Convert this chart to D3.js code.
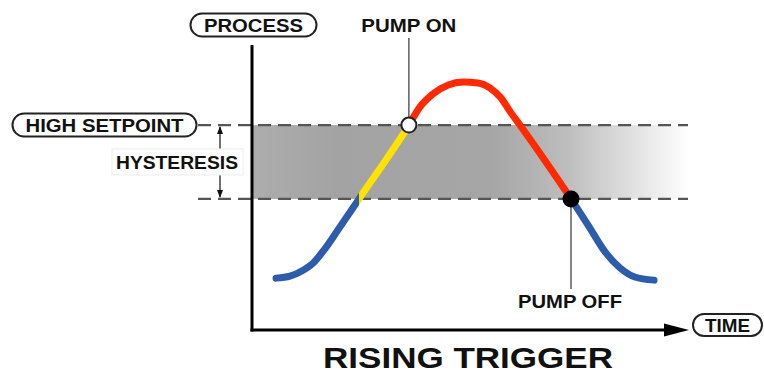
<!DOCTYPE html>
<html><head><meta charset="utf-8">
<script src="https://cdn.jsdelivr.net/npm/d3@7"></script>
<style>
html,body{margin:0;padding:0;background:#fff;}
svg{display:block;}
text{font-family:"Liberation Sans",Arial,Helvetica,sans-serif;font-weight:bold;fill:#111;}
</style></head>
<body>
<svg id="chart" width="764" height="375"></svg>
<script>
// ---- data ----
const times   = [5.5, 8.7, 11.4, 14.0, 16.5, 19.5, 24.5, 35.9, 38.4, 41.4, 44.9, 48.3, 51.7, 54.5, 57.0, 59.0, 61.3, 67.1, 73.0, 76.9, 80.8, 84.2, 87.6, 92.0];
const process = [18.2, 18.9, 20.7, 23.5, 28.1, 34.7, 46.0, 71.9, 78.2, 82.8, 86.0, 87.0, 86.7, 84.9, 81.4, 76.8, 71.9, 59.3, 46.0, 36.8, 27.4, 21.8, 18.6, 17.5];
const setpoints = [71.9, 46.0];         // high setpoint, high - hysteresis
const phaseBreaks = [24.5, 35.9, 73.0]; // enter band, pump on, pump off
const eventLabels = ["PUMP ON", "PUMP OFF"];
const eventTimes  = [35.9, 73.0];
const axisLabels  = ["PROCESS", "TIME"];
const title = "RISING TRIGGER";

// ---- styles ----
const BLUE = "#2d5cab", YELLOW = "#ffe200", RED = "#ff2a00";
const phaseColors = [BLUE, YELLOW, RED, BLUE];

const svg = d3.select("#chart");
const x = d3.scaleLinear([0, 100], [252, 689]);
const y = d3.scaleLinear([0, 100], [330, 45]);
const defs = svg.append("defs");

// band gradient
const bg = defs.append("linearGradient").attr("id", "band")
  .attr("gradientUnits", "userSpaceOnUse")
  .attr("x1", x(0)).attr("x2", x(100)).attr("y1", 0).attr("y2", 0);
[[0, "#adadad"], [0.2, "#a3a3a3"], [0.55, "#a6a6a6"], [0.72, "#bdbdbd"], [1, "#ffffff"]]
  .forEach(([o, c]) => bg.append("stop").attr("offset", o).attr("stop-color", c));

// stroke gradient (hard stops at phase breaks)
const sg = defs.append("linearGradient").attr("id", "phase")
  .attr("gradientUnits", "userSpaceOnUse")
  .attr("x1", x(0)).attr("x2", x(100)).attr("y1", 0).attr("y2", 0);
const bounds = [0, ...phaseBreaks, 100];
phaseColors.forEach((c, i) => {
  sg.append("stop").attr("offset", bounds[i] / 100).attr("stop-color", c);
  sg.append("stop").attr("offset", bounds[i + 1] / 100).attr("stop-color", c);
});

// hysteresis band
svg.append("rect")
  .attr("x", x(0)).attr("y", y(setpoints[0]))
  .attr("width", x(100) - x(0)).attr("height", y(setpoints[1]) - y(setpoints[0]))
  .attr("fill", "url(#band)");

// dashed setpoint lines
svg.selectAll("line.sp").data(setpoints).join("line").attr("class", "sp")
  .attr("x1", 198).attr("x2", x(100) - 1)
  .attr("y1", d => y(d)).attr("y2", d => y(d))
  .attr("stroke", "#555").attr("stroke-width", 2.2).attr("stroke-dasharray", "13,7");

// hysteresis dimension arrow
const hx = 220;
svg.append("line").attr("x1", hx).attr("x2", hx)
  .attr("y1", y(setpoints[0]) + 2).attr("y2", y(setpoints[1]) - 2)
  .attr("stroke", "#111").attr("stroke-width", 1.2);
svg.append("path").attr("d", `M${hx},${y(setpoints[0]) + 1}l-3,8h6z`).attr("fill", "#111");
svg.append("path").attr("d", `M${hx},${y(setpoints[1]) - 1}l-3,-8h6z`).attr("fill", "#111");
const hyMid = (y(setpoints[0]) + y(setpoints[1])) / 2;
svg.append("rect").attr("x", 112).attr("y", hyMid - 13).attr("width", 131).attr("height", 26)
  .attr("fill", "#fff").attr("stroke", "#ececec").attr("stroke-width", 1);
svg.append("text").attr("x", 177).attr("y", hyMid + 7).attr("text-anchor", "middle")
  .attr("font-size", 19).attr("textLength", 122).attr("lengthAdjust", "spacingAndGlyphs")
  .text("HYSTERESIS");

// axes
svg.append("line").attr("x1", x(0)).attr("x2", x(0)).attr("y1", y(100)).attr("y2", y(0) + 1.5)
  .attr("stroke", "#000").attr("stroke-width", 3);
svg.append("line").attr("x1", x(0) - 1.5).attr("x2", x(100) - 22).attr("y1", y(0)).attr("y2", y(0))
  .attr("stroke", "#000").attr("stroke-width", 3);
svg.append("path").attr("d", `M${x(100)},${y(0)}L${x(100) - 25},${y(0) - 6.5}L${x(100) - 25},${y(0) + 6.5}Z`)
  .attr("fill", "#000");

// pill labels
function pill(cx, cy, w, h, label, tl) {
  svg.append("rect").attr("x", cx - w / 2).attr("y", cy - h / 2).attr("width", w).attr("height", h)
    .attr("rx", h / 2).attr("ry", h / 2).attr("fill", "#fff").attr("stroke", "#222").attr("stroke-width", 2);
  svg.append("text").attr("x", cx).attr("y", cy + 7).attr("text-anchor", "middle")
    .attr("font-size", 19).attr("textLength", tl).attr("lengthAdjust", "spacingAndGlyphs").text(label);
}
pill(253.5, 25, 126, 23, axisLabels[0], 99);
pill(104.5, 125, 184, 23, "HIGH SETPOINT", 158);
pill(727.5, 325, 69, 22, axisLabels[1], 45);

// process curve
const line = d3.line().x((d, i) => x(times[i])).y((d, i) => y(process[i]))
  .curve(d3.curveMonotoneX);
svg.append("path").attr("d", line(process))
  .attr("fill", "none").attr("stroke", "url(#phase)").attr("stroke-width", 7)
  .attr("stroke-linecap", "round").attr("stroke-linejoin", "round");

// event leaders, markers and labels
const onX = x(eventTimes[0]), offX = x(eventTimes[1]);
svg.append("line").attr("x1", onX).attr("x2", onX).attr("y1", 38).attr("y2", y(setpoints[0]) - 7)
  .attr("stroke", "#444").attr("stroke-width", 1.3);
svg.append("line").attr("x1", offX).attr("x2", offX).attr("y1", y(setpoints[1])).attr("y2", 289)
  .attr("stroke", "#444").attr("stroke-width", 1.3);
svg.append("circle").attr("cx", onX).attr("cy", y(setpoints[0])).attr("r", 7.5)
  .attr("fill", "#fff").attr("stroke", "#222").attr("stroke-width", 2);
svg.append("circle").attr("cx", offX).attr("cy", y(setpoints[1])).attr("r", 8.5).attr("fill", "#000");
svg.append("text").attr("x", onX).attr("y", 32).attr("text-anchor", "middle")
  .attr("font-size", 19).attr("textLength", 95).attr("lengthAdjust", "spacingAndGlyphs").text(eventLabels[0]);
svg.append("text").attr("x", offX - 1).attr("y", 308).attr("text-anchor", "middle")
  .attr("font-size", 19).attr("textLength", 104).attr("lengthAdjust", "spacingAndGlyphs").text(eventLabels[1]);

// title
svg.append("text").attr("x", 468).attr("y", 368).attr("text-anchor", "middle")
  .attr("font-size", 30).attr("textLength", 290).attr("lengthAdjust", "spacingAndGlyphs").text(title);
</script>
</body></html>
